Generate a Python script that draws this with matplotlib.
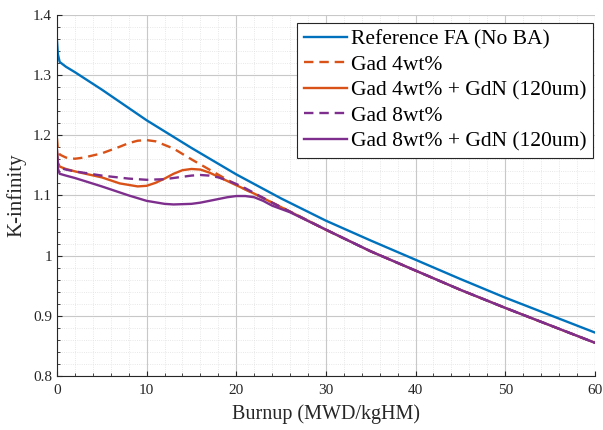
import numpy as np
import matplotlib; matplotlib.use('Agg')
import matplotlib.pyplot as plt
from matplotlib.ticker import MultipleLocator

# burnup points (MWD/kgHM) and k-inf
bu_ref = [0, 0.1, 0.3, 1, 2, 5, 10, 15, 20, 25, 30, 35, 40, 45, 50, 55, 60]
k_ref = [1.357, 1.335, 1.322, 1.314, 1.305, 1.276, 1.225, 1.179, 1.135, 1.095, 1.058, 1.025, 0.993, 0.961, 0.930, 0.901, 0.872]

bu_g4 = [0, 0.1, 0.3, 1, 2, 3, 5, 7, 8, 9, 10, 11, 13, 15, 17, 19, 20, 21, 22, 24, 26, 30, 35, 40, 45, 50, 55, 60]
k_g4 = [1.195, 1.176, 1.168, 1.163, 1.161, 1.163, 1.170, 1.181, 1.187, 1.191, 1.192, 1.190, 1.178, 1.160, 1.143, 1.126, 1.118, 1.110, 1.103, 1.088, 1.073, 1.043, 1.007, 0.975, 0.943, 0.913, 0.884, 0.855]

bu_g4n = [0, 0.1, 0.3, 1, 2, 5, 7, 9, 10, 11, 12, 13, 14, 15, 16, 17, 18, 19, 20, 21, 22, 24, 26, 30, 35, 40, 45, 50, 55, 60]
k_g4n = [1.175, 1.155, 1.148, 1.144, 1.140, 1.130, 1.120, 1.115, 1.116, 1.121, 1.128, 1.136, 1.142, 1.144, 1.143, 1.138, 1.131, 1.124, 1.117, 1.110, 1.103, 1.088, 1.073, 1.043, 1.007, 0.975, 0.943, 0.913, 0.884, 0.855]

bu_g8 = [0, 0.1, 0.3, 1, 2, 5, 8, 10, 12, 14, 15, 16, 17, 18, 19, 20, 21, 22, 24, 26, 30, 35, 40, 45, 50, 55, 60]
k_g8 = [1.165, 1.152, 1.146, 1.143, 1.140, 1.133, 1.128, 1.126, 1.127, 1.131, 1.133, 1.134, 1.133, 1.130, 1.125, 1.119, 1.112, 1.104, 1.088, 1.073, 1.043, 1.007, 0.975, 0.943, 0.913, 0.884, 0.855]

bu_g8n = [0, 0.1, 0.3, 1, 2, 5, 8, 10, 12, 13, 15, 16, 17, 18, 19, 20, 21, 22, 23, 24, 26, 30, 35, 40, 45, 50, 55, 60]
k_g8n = [1.175, 1.145, 1.136, 1.133, 1.129, 1.115, 1.100, 1.091, 1.086, 1.085, 1.086, 1.088, 1.091, 1.094, 1.097, 1.099, 1.099, 1.097, 1.091, 1.083, 1.072, 1.043, 1.007, 0.975, 0.943, 0.913, 0.884, 0.855]

labels = ['Reference FA (No BA)', 'Gad 4wt%', 'Gad 4wt% + GdN (120um)', 'Gad 8wt%', 'Gad 8wt% + GdN (120um)']
BLUE, ORANGE, PURPLE = '#0072BD', '#D95319', '#7E2F8E'

plt.rcParams['font.family'] = ['Liberation Serif', 'DejaVu Serif']
fig = plt.figure(figsize=(6.03, 4.30), dpi=100)
ax = fig.add_axes([0.0945, 0.126, 0.892, 0.839])

ax.plot(bu_ref, k_ref, color=BLUE, lw=1.7, label=labels[0])
ax.plot(bu_g4, k_g4, color=ORANGE, lw=1.7, ls=(0, (4, 2.5)), label=labels[1])
ax.plot(bu_g4n, k_g4n, color=ORANGE, lw=1.7, label=labels[2])
ax.plot(bu_g8, k_g8, color=PURPLE, lw=1.7, ls=(0, (4, 2.5)), label=labels[3])
ax.plot(bu_g8n, k_g8n, color=PURPLE, lw=1.7, label=labels[4])

ax.set_xlim(0, 60); ax.set_ylim(0.8, 1.4)
ax.xaxis.set_major_locator(MultipleLocator(10)); ax.xaxis.set_minor_locator(MultipleLocator(2))
ax.yaxis.set_major_locator(MultipleLocator(0.1)); ax.yaxis.set_minor_locator(MultipleLocator(0.02))
ax.set_yticks(np.arange(0.8, 1.41, 0.1)); ax.set_yticklabels(['0.8', '0.9', '1', '1.1', '1.2', '1.3', '1.4'])
ax.grid(which='major', color='#c8c8c8', lw=0.8)
ax.grid(which='minor', color='#e0e0e0', lw=0.6, ls=':')
ax.tick_params(which='both', direction='in', labelsize=11, colors='#262626', top=False, right=False)
ax.tick_params(axis='x', pad=6)
ax.tick_params(which='minor', length=2)
for s in ['top', 'right']: ax.spines[s].set_visible(False)
for s in ['left', 'bottom']: ax.spines[s].set_color('#262626')
ax.set_xlabel('Burnup (MWD/kgHM)', fontsize=14.5, color='#262626', labelpad=5)
ax.set_ylabel('K-infinity', fontsize=15, color='#262626', labelpad=5)
leg = ax.legend(loc='upper right', bbox_to_anchor=(1.005, 0.99), fontsize=15.5, fancybox=False, framealpha=1,
                edgecolor='#262626', handlelength=2.0, handletextpad=0.2, borderpad=0.3, labelspacing=0.25,
                borderaxespad=0.2)
leg.get_frame().set_linewidth(0.8)
fig.savefig('out.png', dpi=100)
